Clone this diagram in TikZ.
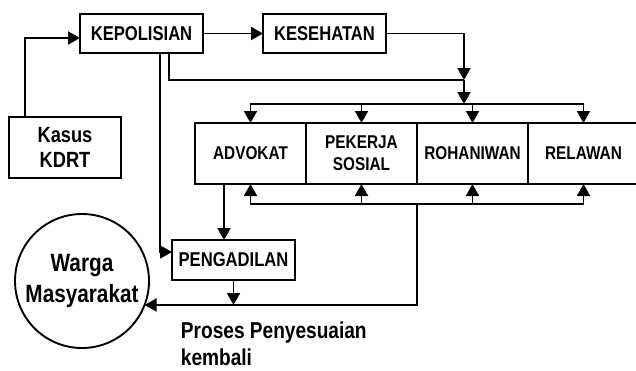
\documentclass[tikz,border=0pt]{standalone}
\usepackage{fontspec}
\setmainfont{Liberation Sans}[FakeStretch=0.83, BoldFont={Liberation Sans Bold}]
\usetikzlibrary{positioning,arrows.meta}

\begin{document}
\begin{tikzpicture}[x=1pt, y=-1pt, line width=1.9pt,
  >={Triangle[length=12pt,width=13pt]},
  box/.style={draw, rectangle, minimum width=123pt, minimum height=39pt,
    inner sep=0pt, outer sep=0pt, align=center,
    font=\bfseries\fontsize{20}{22}\selectfont},
  unit/.style={box, minimum width=111pt, minimum height=61pt,
    font=\bfseries\fontsize{18.5}{22}\selectfont}]
\useasboundingbox (0,0) rectangle (636,370);
\clip (0,0) rectangle (636,370);

\coordinate (merge) at (464,80);
\coordinate (split) at (464,104);
\coordinate (back) at (417,204);

\node[box] (kepolisian) at (141.5,33.5) {KEPOLISIAN};
\node[box, right=60pt of kepolisian] (kesehatan) {KESEHATAN};
\node[box, minimum width=112pt, minimum height=61pt,
  font=\bfseries\fontsize{22}{25}\selectfont] (kasus) at (65,147.5) {Kasus\\KDRT};

\node[unit] (advokat) at (250.5,153.5) {ADVOKAT};
\node[unit, right=0pt of advokat] (pekerja) {PEKERJA\\SOSIAL};
\node[unit, right=0pt of pekerja] (rohaniwan) {ROHANIWAN};
\node[unit, right=0pt of rohaniwan] (relawan) {RELAWAN};

\node[box, minimum height=40pt] (pengadilan) at (233.5,260) {PENGADILAN};
\node[draw, circle, minimum size=134pt, inner sep=0pt, outer sep=0pt, align=center,
  font=\bfseries\fontsize{25}{30.5}\selectfont] (warga) at (82,281) {Warga\\Masyarakat};
\node[anchor=north west, align=left, inner sep=0pt,
  font=\bfseries\fontsize{23}{26.5}\selectfont] (proses) at (180,321) {Proses Penyesuaian\\kembali};

% alur masuk
\draw[->] ([xshift=-40pt]kasus.north) |- ([yshift=-4.5pt]kepolisian.west);
\draw[->] (kepolisian) -- (kesehatan);
\draw[->] (kesehatan.east) -| (merge);
\draw ([xshift=27.5pt]kepolisian.south) |- (merge);
\draw[->] (merge) -- (split);

% ke masing-masing pendamping
\foreach \n in {advokat, pekerja, rohaniwan, relawan}
  \draw[->] (split) -| (\n.north);
\foreach \n in {advokat, pekerja, rohaniwan, relawan}
  \draw[->] (back) -| (\n.south);

% ke pengadilan dan kembali ke warga
\draw[->] ([xshift=-26.5pt]advokat.south) -- ([xshift=-26.5pt]advokat.south |- pengadilan.north);
\draw[->] ([xshift=18.5pt]kepolisian.south) |- ([yshift=8pt]pengadilan.west);
\draw[->] (pengadilan.south) -- (pengadilan.south |- warga.-21);
\draw[->] (back) |- (warga.-21);
\end{tikzpicture}
\end{document}
